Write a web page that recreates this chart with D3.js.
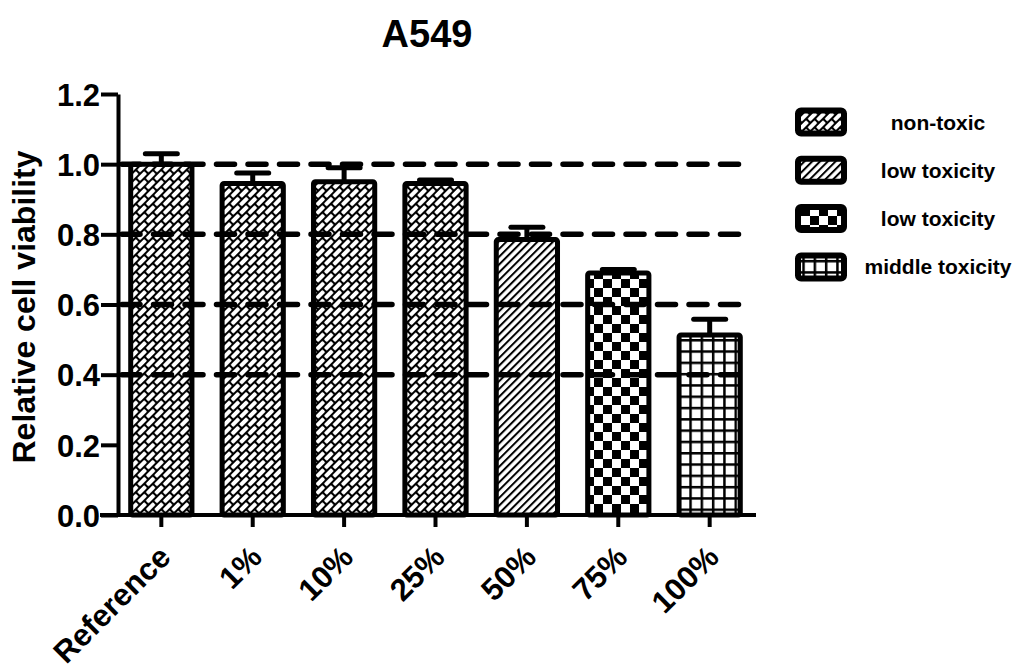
<!DOCTYPE html>
<html>
<head>
<meta charset="utf-8">
<script src="https://cdn.jsdelivr.net/npm/d3@7"></script>
<style>
  html, body { margin: 0; padding: 0; background: #fff; }
  svg { display: block; }
  text { font-family: "Liberation Sans", Arial, sans-serif; font-weight: bold; fill: #000; }
</style>
</head>
<body>
<svg id="chart" width="1021" height="664"></svg>
<script>
// ---- data ----
const title = "A549";
const yLabel = "Relative cell viability";
const categories = ["Reference", "1%", "10%", "25%", "50%", "75%", "100%"];
const means = [1.0, 0.945, 0.95, 0.945, 0.785, 0.69, 0.513];
const errors = [0.03, 0.03, 0.04, 0.01, 0.035, 0.01, 0.045];
const barGroup = [0, 0, 0, 0, 1, 2, 3];
const legendLabels = ["non-toxic", "low toxicity", "low toxicity", "middle toxicity"];
const yTicks = [0, 0.2, 0.4, 0.6, 0.8, 1.0, 1.2];
const refLines = [1.0, 0.8, 0.6, 0.4];

// ---- layout ----
const svg = d3.select("#chart");
const plot = { left: 118, right: 754, top: 94, bottom: 515 };
const patternIds = ["pBrick", "pHatch", "pChecker", "pGrid"];

const y = d3.scaleLinear().domain([0, 1.2]).range([plot.bottom, plot.top]);
const x = d3.scaleBand().domain(categories).range([117, 754]).paddingInner(0.33).paddingOuter(0.15);

// ---- patterns ----
const defs = svg.append("defs");
// brick (non-toxic)
const pb = defs.append("pattern").attr("id", "pBrick").attr("patternUnits", "userSpaceOnUse")
  .attr("width", 12).attr("height", 12).attr("patternTransform", "rotate(-45)");
pb.append("rect").attr("width", 12).attr("height", 12).attr("fill", "#000");
[[1, 1], [-5, 7], [7, 7]].forEach(([bx, by]) =>
  pb.append("rect").attr("x", bx).attr("y", by).attr("width", 10).attr("height", 4).attr("rx", 1).attr("fill", "#fff"));
// hatch (low toxicity)
const ph = defs.append("pattern").attr("id", "pHatch").attr("patternUnits", "userSpaceOnUse")
  .attr("width", 5.5).attr("height", 5.5).attr("patternTransform", "rotate(45)");
ph.append("rect").attr("width", 5.5).attr("height", 5.5).attr("fill", "#fff");
ph.append("rect").attr("width", 2).attr("height", 5.5).attr("fill", "#000");
// checker
const pc = defs.append("pattern").attr("id", "pChecker").attr("patternUnits", "userSpaceOnUse")
  .attr("width", 18).attr("height", 18);
pc.append("rect").attr("width", 18).attr("height", 18).attr("fill", "#fff");
pc.append("rect").attr("width", 9).attr("height", 9).attr("fill", "#000");
pc.append("rect").attr("x", 9).attr("y", 9).attr("width", 9).attr("height", 9).attr("fill", "#000");
// grid
const pg = defs.append("pattern").attr("id", "pGrid").attr("patternUnits", "userSpaceOnUse")
  .attr("width", 11.3).attr("height", 11.3);
pg.append("rect").attr("width", 11.3).attr("height", 11.3).attr("fill", "#fff");
pg.append("rect").attr("width", 11.3).attr("height", 2.5).attr("fill", "#000");
pg.append("rect").attr("width", 2.5).attr("height", 11.3).attr("fill", "#000");

// ---- title ----
svg.append("text").attr("x", 427).attr("y", 47).attr("text-anchor", "middle")
  .style("font-size", "38px").text(title);

// ---- y label ----
svg.append("text").attr("transform", "translate(35,307) rotate(-90)")
  .attr("text-anchor", "middle").style("font-size", "32px").text(yLabel);

// ---- error bars (upper only) ----
const eb = svg.append("g");
categories.forEach((c, i) => {
  const cx = x(c) + x.bandwidth() / 2;
  eb.append("line").attr("x1", cx).attr("x2", cx)
    .attr("y1", y(means[i])).attr("y2", y(means[i] + errors[i]))
    .attr("stroke", "#000").attr("stroke-width", 5);
  eb.append("line").attr("x1", cx - 16).attr("x2", cx + 16)
    .attr("y1", y(means[i] + errors[i])).attr("y2", y(means[i] + errors[i]))
    .attr("stroke", "#000").attr("stroke-width", 5).attr("stroke-linecap", "round");
});

// ---- bars ----
svg.append("g").selectAll("rect").data(categories).join("rect")
  .attr("x", d => x(d))
  .attr("width", x.bandwidth())
  .attr("y", (d, i) => y(means[i]))
  .attr("height", (d, i) => y(0) - y(means[i]))
  .attr("rx", 2)
  .attr("fill", (d, i) => `url(#${patternIds[barGroup[i]]})`)
  .attr("stroke", "#000").attr("stroke-width", 5);

// ---- axes ----
const yAxis = svg.append("g").attr("transform", `translate(${plot.left},0)`)
  .call(d3.axisLeft(y).tickValues(yTicks).tickFormat(d3.format(".1f")).tickSize(17).tickSizeOuter(0).tickPadding(1));
yAxis.select(".domain").attr("stroke-width", 4);
yAxis.selectAll(".tick line").attr("stroke-width", 4);
yAxis.selectAll(".tick text").style("font-size", "31px").attr("dy", "0.36em");

const xAxis = svg.append("g").attr("transform", `translate(0,${plot.bottom})`)
  .call(d3.axisBottom(x).tickSize(12).tickSizeOuter(0));
xAxis.select(".domain").remove();
xAxis.append("line").attr("x1", 100).attr("x2", 756).attr("y1", 0).attr("y2", 0)
  .attr("stroke", "#000").attr("stroke-width", 4);
xAxis.selectAll(".tick line").attr("stroke-width", 4);
xAxis.selectAll(".tick text")
  .style("font-size", "31px")
  .attr("text-anchor", "end")
  .attr("dy", null).attr("y", null)
  .attr("transform", "translate(11,44) rotate(-45)");

// ---- reference dashed lines ----
svg.append("g").selectAll("line").data(refLines).join("line")
  .attr("x1", plot.left + 4).attr("x2", 745)
  .attr("y1", d => y(d)).attr("y2", d => y(d))
  .attr("stroke", "#000").attr("stroke-width", 5.5)
  .attr("stroke-dasharray", "18,13.5").attr("stroke-linecap", "round");

// ---- legend ----
const lg = svg.append("g");
legendLabels.forEach((lab, i) => {
  const cy = 122 + i * 48.3;
  lg.append("rect").attr("x", 798).attr("y", cy - 11.5).attr("width", 46).attr("height", 23)
    .attr("rx", 3).attr("fill", `url(#${patternIds[i]})`)
    .attr("stroke", "#000").attr("stroke-width", 6);
  lg.append("text").attr("x", 938).attr("y", cy).attr("dy", "0.36em")
    .attr("text-anchor", "middle").style("font-size", "21px").text(lab);
});
</script>
</body>
</html>
